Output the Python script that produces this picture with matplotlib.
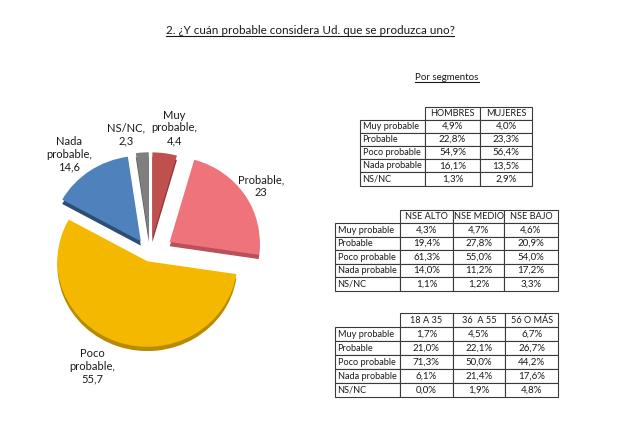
import matplotlib
matplotlib.use("Agg")
import numpy as np
import matplotlib.pyplot as plt
from matplotlib.lines import Line2D
from matplotlib.table import Table

W, H, DPI = 617, 432, 100
FONT = ["Lato", "DejaVu Sans"]
plt.rcParams["font.family"] = FONT

# ---------------- data ----------------
title = "2. ¿Y cuán probable considera Ud. que se produzca uno?"
subtitle = "Por segmentos"

categories = ["Muy probable", "Probable", "Poco probable", "Nada probable", "NS/NC"]
pie_names = ["Muy\nprobable", "Probable", "Poco\nprobable", "Nada\nprobable", "NS/NC"]
pie_values = [4.4, 23, 55.7, 14.6, 2.3]

sexo_cols = ["HOMBRES", "MUJERES"]
hombres = [4.9, 22.8, 54.9, 16.1, 1.3]
mujeres = [4.0, 23.3, 56.4, 13.5, 2.9]

nse_cols = ["NSE ALTO", "NSE MEDIO", "NSE BAJO"]
nse_alto = [4.3, 19.4, 61.3, 14.0, 1.1]
nse_medio = [4.7, 27.8, 55.0, 11.2, 1.2]
nse_bajo = [4.6, 20.9, 54.0, 17.2, 3.3]

edad_cols = ["18 A 35", "36  A 55", "56 O MÁS"]
edad_18_35 = [1.7, 21.0, 71.3, 6.1, 0.0]
edad_36_55 = [4.5, 22.1, 50.0, 21.4, 1.9]
edad_56_mas = [6.7, 26.7, 44.2, 17.6, 4.8]

# ---------------- style ----------------
pie_colors = ["#C0504D", "#EE737B", "#F5B800", "#4F81BD", "#7F7F7F"]
pie_dark = ["#8E3431", "#B9505A", "#B88A00", "#2C4D74", "#555555"]
explode = [0.19, 0.26, 0.09, 0.18, 0.19]
label_dist = [1.50, 1.47, 1.46, 1.47, 1.42]
label_dang = [-2.5, 0, -7, 3, 6.5]
TXT = "#1a1a1a"
EDGE = "#3a3a3a"


def px_axes(x0, y0, x1, y1):
    return fig.add_axes([x0 / W, 1 - y1 / H, (x1 - x0) / W, (y1 - y0) / H])


def fmt_num(v):
    return ("%g" % v).replace(".", ",")


def fmt_pct(v):
    return ("%.1f%%" % v).replace(".", ",")


fig = plt.figure(figsize=(W / DPI, H / DPI), dpi=DPI)
fig.patch.set_facecolor("white")

# ---------------- pie (slightly tilted, 3D-like rim) ----------------
ax = px_axes(15, 125.75, 285, 382.25)
ax.pie(pie_values, colors=pie_dark, explode=explode, startangle=90,
       counterclock=False, center=(0, -0.05), radius=1.0,
       wedgeprops=dict(linewidth=0))
wedges, texts = ax.pie(pie_values, colors=pie_colors, explode=explode, startangle=90,
                       counterclock=False, radius=1.0,
                       labels=[f"{n},\n{fmt_num(v)}" for n, v in zip(pie_names, pie_values)],
                       labeldistance=1.4,
                       textprops=dict(fontsize=8, color=TXT, ha="center", va="center",
                                      linespacing=1.2),
                       wedgeprops=dict(linewidth=0))
for w, t, d, da in zip(wedges, texts, label_dist, label_dang):
    mid = np.deg2rad((w.theta1 + w.theta2) / 2 + da)
    t.set_position((d * np.cos(mid), d * np.sin(mid)))
ax.set_xlim(-1.5, 1.5)
ax.set_ylim(-1.5, 1.5)
ax.set_aspect("auto")
ax.axis("off")

# ---------------- titles ----------------
def underlined(x, y, s, size):
    t = fig.text(x / W, 1 - y / H, s, ha="center", va="baseline", fontsize=size, color=TXT)
    fig.canvas.draw()
    bb = t.get_window_extent()
    fig.add_artist(Line2D([bb.x0 / W, bb.x1 / W], [(H - y - 2) / H] * 2,
                          transform=fig.transFigure, color=TXT, lw=0.8))

underlined(310, 34, title, 8.4)
underlined(447, 80, subtitle, 7)

# ---------------- tables ----------------
def make_table(box, cols, series, widths):
    tax = px_axes(*box)
    tax.axis("off")
    tot = sum(widths)
    fr = [w / tot for w in widths]
    nrow = len(categories) + 1
    h = 1.0 / nrow
    tb = Table(tax, bbox=[0, 0, 1, 1])
    tb.auto_set_font_size(False)
    for j, name in enumerate(cols):
        tb.add_cell(0, j + 1, width=fr[j + 1], height=h, text=name, loc="center")
    for i, cat in enumerate(categories):
        tb.add_cell(i + 1, 0, width=fr[0], height=h, text=cat, loc="left")
        for j, s in enumerate(series):
            tb.add_cell(i + 1, j + 1, width=fr[j + 1], height=h, text=fmt_pct(s[i]), loc="center")
    for (r, c), cell in tb.get_celld().items():
        cell.set_edgecolor(EDGE)
        cell.set_linewidth(0.8)
        txt = cell.get_text()
        txt.set_color(TXT)
        if c == 0:
            cell.PAD = 0.04
            txt.set_fontsize(6.6)
        elif r == 0:
            cell.PAD = 0.02
            txt.set_fontsize(6.6)
        else:
            txt.set_fontsize(7)
    tax.add_table(tb)
    return tb

make_table((360, 106.7, 532, 185.5), sexo_cols, [hombres, mujeres], [65, 55, 52])
make_table((335, 210, 557.5, 290.7), nse_cols, [nse_alto, nse_medio, nse_bajo], [65, 53.3, 50.7, 53.3])
make_table((335, 313.3, 558.3, 397.3), edad_cols, [edad_18_35, edad_36_55, edad_56_mas], [65, 52.7, 52.3, 53.3])

fig.savefig("out.png", dpi=DPI, facecolor="white")
